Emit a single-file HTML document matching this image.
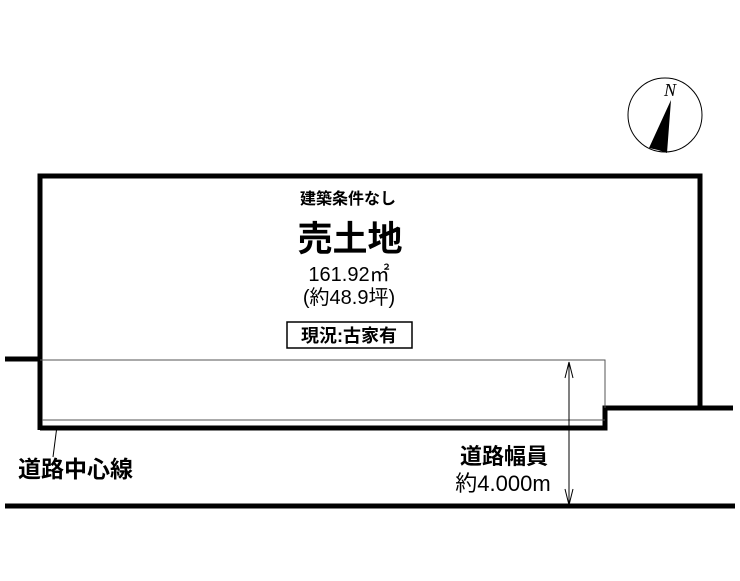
<!DOCTYPE html>
<html><head><meta charset="utf-8"><style>
body{margin:0;background:#fff;width:740px;height:576px;overflow:hidden}
svg text{font-family:"Liberation Sans","Noto Sans CJK JP",sans-serif;font-weight:bold;fill:#000}
</style></head><body>
<svg width="740" height="576" viewBox="0 0 740 576">
<g stroke="#000" fill="none">
<polyline points="40,430 40,176 700,176 700,408" stroke-width="5"/>
<polyline points="40,428 605,428 605,408 733,408" stroke-width="5"/>
<line x1="5" y1="359" x2="40" y2="359" stroke-width="5"/>
<line x1="5" y1="506" x2="735" y2="506" stroke-width="5"/>
<polyline points="40,360 605,360 605,408" stroke-width="1" stroke="#555"/>
<line x1="42" y1="420" x2="605" y2="420" stroke-width="1" stroke="#555"/>
<line x1="57" y1="426" x2="53" y2="457" stroke-width="1"/>
<line x1="569" y1="362" x2="569" y2="505" stroke-width="1"/>
<polyline points="565,378 569,362 573,378" stroke-width="1"/>
<polyline points="565,489 569,505 573,489" stroke-width="1"/>
<circle cx="665" cy="115" r="37" stroke-width="1"/>
<rect x="287" y="322" width="125" height="26" stroke-width="1.5"/>
</g>
<polygon points="671,100 649,148 658,150 667,153" fill="#000"/>
<text x="670" y="96" font-size="18" font-style="italic" style="font-family:'Liberation Serif',serif;font-weight:normal" text-anchor="middle">N</text>
<text x="348" y="204" font-size="16" text-anchor="middle">建築条件なし</text>
<text x="350" y="251" font-size="35" text-anchor="middle">売土地</text>
<text x="349" y="281" font-size="20" text-anchor="middle" style="font-weight:normal">161.92㎡</text>
<text x="349" y="304" font-size="20" text-anchor="middle" style="font-weight:normal">(約48.9坪)</text>
<text x="349" y="342" font-size="18" text-anchor="middle">現況:古家有</text>
<text x="18" y="477" font-size="23">道路中心線</text>
<text x="504" y="464" font-size="22" text-anchor="middle">道路幅員</text>
<text x="503" y="491" font-size="22" text-anchor="middle" style="font-weight:normal">約4.000m</text>
</svg>
</body></html>
